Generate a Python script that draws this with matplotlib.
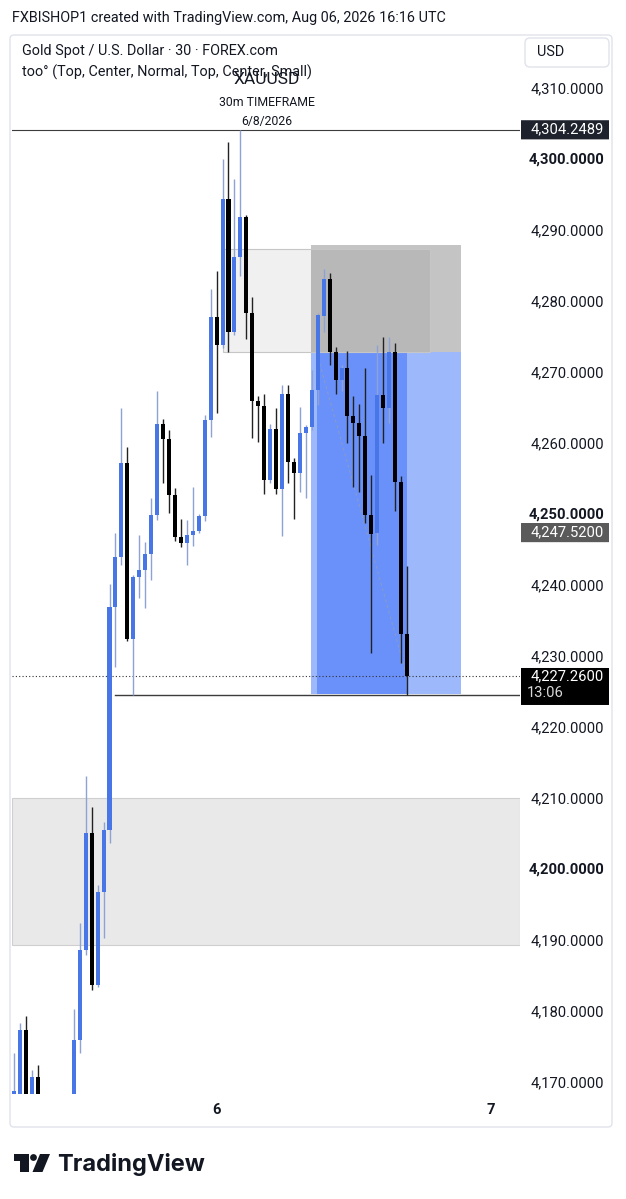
import numpy as np
import matplotlib
matplotlib.use('Agg')
import matplotlib.pyplot as plt
import matplotlib.transforms as mtransforms
from matplotlib.patches import Rectangle, FancyBboxPatch, Polygon, Circle

plt.rcParams['font.family'] = ['Roboto', 'DejaVu Sans']

nan = np.nan

# 30m XAUUSD candles (bars 5-9 sit below the visible range)
opens = [4168.5, 4167.0, 4177.5, 4167.0, 4170.8, nan, nan, nan, nan, nan,
         4166.0, 4176.1, 4188.7, 4205.2, 4183.8, 4196.9, 4205.6, 4237.0, 4244.1, 4257.3,
         4232.5, 4241.3, 4242.2, 4244.5, 4250.0, 4262.8, 4260.7, 4252.8, 4246.9, 4246.0,
         4247.2, 4247.8, 4249.9, 4263.4, 4277.9, 4273.9, 4294.5, 4275.7, 4286.4, 4292.0,
         4278.4, 4266.1, 4265.4, 4254.9, 4262.1, 4253.6, 4267.0, 4257.4, 4255.9, 4261.6,
         4262.4, 4267.6, 4278.0, 4283.2, 4272.9, 4269.0, 4270.7, 4264.0, 4263.0, 4261.1,
         4250.0, 4247.4, 4266.9, 4265.0, 4272.9, 4254.7, 4233.3]
highs = [4174.2, 4178.5, 4179.4, 4171.9, 4172.5, nan, nan, nan, nan, nan,
         4180.4, 4192.6, 4213.2, 4208.9, 4197.9, 4206.7, 4240.3, 4247.4, 4265.0, 4259.6,
         4241.5, 4247.2, 4246.2, 4252.4, 4267.4, 4263.5, 4262.0, 4253.8, 4249.4, 4249.3,
         4253.9, 4250.2, 4264.1, 4281.8, 4284.4, 4300.1, 4302.6, 4297.3, 4304.25, 4292.2,
         4280.7, 4266.7, 4267.0, 4262.8, 4265.0, 4268.3, 4268.3, 4258.0, 4265.2, 4262.7,
         4270.4, 4278.5, 4284.6, 4284.1, 4273.6, 4271.1, 4273.1, 4266.8, 4265.6, 4270.7,
         4255.6, 4273.9, 4275.0, 4275.1, 4274.2, 4255.5, 4242.8]
lows = [4168.0, 4166.0, 4166.0, 4166.5, 4166.0, nan, nan, nan, nan, nan,
        4165.0, 4174.2, 4188.0, 4183.1, 4183.5, 4190.4, 4203.8, 4228.6, 4243.0, 4232.2,
        4224.7, 4238.3, 4236.9, 4240.8, 4249.3, 4254.5, 4250.3, 4246.4, 4245.5, 4243.0,
        4245.6, 4247.5, 4249.1, 4261.0, 4264.4, 4273.5, 4272.9, 4275.3, 4283.6, 4274.8,
        4260.8, 4260.3, 4253.0, 4254.5, 4253.0, 4247.0, 4254.5, 4249.4, 4253.2, 4252.4,
        4262.0, 4265.5, 4275.8, 4271.1, 4267.1, 4267.5, 4260.1, 4254.0, 4253.2, 4248.8,
        4230.5, 4245.8, 4260.1, 4262.9, 4250.6, 4229.2, 4224.6]
closes = [4168.8, 4177.5, 4167.0, 4170.8, 4167.0, nan, nan, nan, nan, nan,
          4176.1, 4188.7, 4205.2, 4183.8, 4196.9, 4205.7, 4237.0, 4244.1, 4257.3, 4232.5,
          4241.3, 4242.2, 4244.5, 4250.0, 4262.8, 4260.7, 4252.8, 4246.9, 4246.0, 4247.2,
          4247.8, 4249.9, 4263.4, 4277.9, 4273.9, 4294.5, 4275.7, 4286.4, 4292.0, 4278.4,
          4266.1, 4265.4, 4254.9, 4262.1, 4253.6, 4267.0, 4257.4, 4255.9, 4261.6, 4262.4,
          4267.6, 4278.2, 4283.2, 4272.9, 4269.0, 4270.7, 4264.0, 4263.0, 4261.1, 4250.0,
          4247.3, 4266.9, 4265.0, 4272.9, 4254.6, 4233.3, 4227.26]

price_ticks = list(range(4170, 4311, 10))
bold_ticks = [4200, 4250, 4300]
day_ticks = [34, 80]
day_labels = ['6', '7']

# drawn objects (prices / bar indices)
high_line = 4304.2489
low_line = 4224.7
last_price = 4227.26
marker_price = 4247.52
demand_zone = (4189.44, 4210.14)
supply_box = (35.0, 69.9, 4272.9, 4287.4)
pos_left, pos_right, pos_entry_bar = 49.9, 75.1, 50.8
pos_entry, pos_stop, pos_target = 4272.9, 4288.0, 4224.8

W, H = 626, 1199
fig = plt.figure(figsize=(W / 100, H / 100), dpi=100)
fig.patch.set_facecolor('white')

# pixel coordinates (y down) -> figure
pix = mtransforms.Affine2D().scale(1 / W, -1 / H).translate(0, 1) + fig.transFigure

def fx(px):
    return px / W

def fy(py):
    return 1 - py / H

# chart frame
fig.add_artist(FancyBboxPatch((10, 35), 602, 1092, boxstyle='round,pad=0,rounding_size=4',
                              fc='none', ec='#e0e3eb', lw=1, transform=pix))

ax = fig.add_axes([fx(12), fy(1094), fx(520) - fx(12), fy(35) - fy(1094)])
ax.set_xlim(-0.39, 85.0)
ax.set_ylim(4168.45, 4317.6)
ax.axis('off')

up_body = '#4876e6'
up_wick = '#8ea3d4'
dn_body = '#000000'

# zones
ax.axhspan(demand_zone[0], demand_zone[1], fc='#e9e9e9', ec='#cfcfcf', lw=0.8, zorder=1)
ax.add_patch(Rectangle((pos_left, pos_entry), pos_right - pos_left, pos_stop - pos_entry,
                       fc='#c4c4c4', ec='none', zorder=1))
ax.add_patch(Rectangle((pos_left, pos_target), pos_right - pos_left, pos_entry - pos_target,
                       fc='#9db9fc', ec='none', zorder=1))
ax.add_patch(Rectangle((pos_entry_bar, pos_target), 66.05 - pos_entry_bar, pos_entry - pos_target,
                       fc='#6a91fa', ec='none', zorder=1.1))
ax.add_patch(Rectangle((supply_box[0], supply_box[2]), supply_box[1] - supply_box[0],
                       supply_box[3] - supply_box[2], fc=(0, 0, 0, 0.06), ec='#c6c6c6',
                       lw=0.8, zorder=1.2))
ax.plot([pos_entry_bar, 66], [pos_entry, last_price], ls=(0, (3, 3)), color='#8a9bc4',
        lw=0.7, zorder=1.3)

# horizontal lines
ax.axhline(high_line, color='#3c3c3c', lw=0.8, zorder=2)
ax.plot([17.0, 85.0], [low_line, low_line], color='#3c3c3c', lw=1.0, zorder=2)
ax.axhline(last_price, color='#333333', lw=0.8, ls=(0, (1, 2)), zorder=2)

# candles
idx = np.arange(len(opens))
o = np.array(opens)
h = np.array(highs)
l = np.array(lows)
c = np.array(closes)
ok = ~np.isnan(o)
up = ok & (c >= o)
dn = ok & (c < o)
ax.vlines(idx[up], l[up], h[up], color=up_wick, lw=1, zorder=3)
ax.vlines(idx[dn], l[dn], h[dn], color='#222222', lw=1, zorder=3)
body_h = np.maximum(np.abs(c - o), 0.35)
ax.bar(idx[up], body_h[up], bottom=np.minimum(o, c)[up], width=0.68, color=up_body, zorder=4)
ax.bar(idx[dn], body_h[dn], bottom=np.minimum(o, c)[dn], width=0.68, color=dn_body, zorder=4)

# price axis
LAB = 10.6
blend_y = mtransforms.blended_transform_factory(fig.transFigure, ax.transData)
for p in price_ticks:
    ax.text(fx(604), p, f'{p:,.4f}', transform=blend_y, ha='right', va='center',
            fontsize=LAB, color='#131722',
            fontweight='bold' if p in bold_ticks else 'normal')

def price_box(y0, y1, fc, text, y_text):
    ax.add_patch(FancyBboxPatch((fx(521), y0), fx(609) - fx(521), y1 - y0,
                                boxstyle='round,pad=0,rounding_size=0.004', fc=fc, ec='none',
                                transform=blend_y, clip_on=False, zorder=6))
    ax.text(fx(604), y_text, text, transform=blend_y, ha='right', va='center',
            fontsize=LAB, color='white', zorder=7)

price_box(high_line - 1.35, high_line + 1.35, '#1e222d', f'{high_line:,.4f}', high_line)
price_box(marker_price - 1.35, marker_price + 1.35, '#5a5a5a', f'{marker_price:,.4f}', marker_price)
price_box(4223.24, 4228.45, '#000000', f'{last_price:,.4f}', last_price + 0.05)
# bar countdown under the last price
ax.text(fx(527), 4224.95, '13:06', transform=blend_y, ha='left', va='center',
        fontsize=LAB, color='#d8d8d8', zorder=7)

# time axis
blend_x = mtransforms.blended_transform_factory(ax.transData, fig.transFigure)
for t, lab in zip(day_ticks, day_labels):
    ax.text(t, fy(1110), lab, transform=blend_x, ha='center', va='center',
            fontsize=LAB, color='#131722', fontweight='bold')

# header texts
fig.text(fx(12), fy(18), 'FXBISHOP1 created with TradingView.com, Aug 06, 2026 16:16 UTC',
         ha='left', va='center', fontsize=10.4, color='#131722')
fig.text(fx(22), fy(51), 'Gold Spot / U.S. Dollar · 30 · FOREX.com',
         ha='left', va='center', fontsize=10.4, color='#131722')
fig.text(fx(22), fy(72), 'too° (Top, Center, Normal, Top, Center, Small)',
         ha='left', va='center', fontsize=10.4, color='#131722')
fig.add_artist(FancyBboxPatch((525, 38), 84, 29, boxstyle='round,pad=0,rounding_size=5',
                              fc='white', ec='#e0e3eb', lw=1, transform=pix))
fig.text(fx(537), fy(52), 'USD', ha='left', va='center', fontsize=10.4, color='#131722')

# chart annotations (overlap the legend line in the original too)
fig.text(fx(267), fy(80), 'XAUUSD', ha='center', va='center', fontsize=12.5, color='#131722')
fig.text(fx(267), fy(103), '30m TIMEFRAME', ha='center', va='center', fontsize=8.8, color='#131722')
fig.text(fx(267), fy(122), '6/8/2026', ha='center', va='center', fontsize=8.8, color='#131722')

# TradingView logo
fig.add_artist(Polygon([(14, 1154), (29.3, 1154), (29.3, 1172), (20, 1172), (20, 1160.7), (14, 1160.7)],
                       closed=True, fc='#131722', ec='none', transform=pix))
fig.add_artist(Circle((33.5, 1157.5), 3.4, fc='#131722', ec='none', transform=pix))
fig.add_artist(Polygon([(40, 1154), (50, 1154), (42.5, 1172), (32.5, 1172)],
                       closed=True, fc='#131722', ec='none', transform=pix))
fig.text(fx(57), fy(1164), 'TradingView', ha='left', va='center', fontsize=17,
         fontweight='bold', family=['Inter', 'DejaVu Sans'], color='#131722')

fig.savefig('out.png', dpi=100, facecolor='white')
